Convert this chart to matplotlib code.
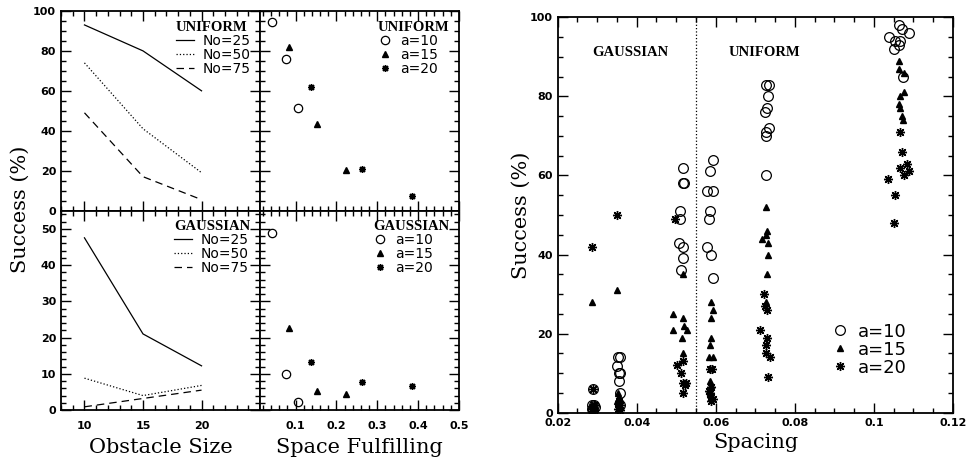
import numpy as np
import matplotlib.pyplot as plt
from matplotlib.ticker import MultipleLocator, FixedLocator

# obstacle size panels
size = [10, 15, 20]
uni_no25 = [93, 80, 60]
uni_no50 = [74, 41, 19]
uni_no75 = [49, 17, 5.5]
gau_no25 = [47.5, 21, 12.2]
gau_no50 = [8.8, 4.0, 6.8]
gau_no75 = [0.9, 3.2, 5.5]

# space fulfilling panels
fill_a10 = [0.043, 0.076, 0.106]
fill_a15 = [0.084, 0.153, 0.223]
fill_a20 = [0.137, 0.262, 0.385]
uni_a10 = [94.7, 75.8, 51.6]
uni_a15 = [82.1, 43.4, 20.4]
uni_a20 = [61.8, 20.9, 7.3]
gau_a10 = [48.8, 10.0, 2.1]
gau_a15 = [22.7, 5.3, 4.5]
gau_a20 = [13.3, 7.8, 6.6]

# spacing panel
sp_a10 = [0.0288, 0.0292, 0.029, 0.0294, 0.029, 0.0286,
          0.035, 0.0353, 0.0357, 0.0358, 0.0355, 0.0356, 0.0358, 0.0357,
          0.0516, 0.0518, 0.0519, 0.051, 0.051, 0.0508, 0.0516, 0.0516, 0.0512,
          0.0592, 0.0586, 0.0579, 0.0594, 0.0586, 0.0582, 0.0577, 0.0589, 0.0592,
          0.0726, 0.0734, 0.0732, 0.073, 0.0724, 0.0734, 0.0727, 0.0727, 0.0728,
          0.1037, 0.1063, 0.107, 0.1088, 0.1054, 0.1065, 0.1063, 0.105, 0.1074]
su_a10 = [1, 2, 0.7, 1.5, 6, 2,
          11.8, 14, 14, 10, 10, 8, 5, 2,
          62, 58, 58, 51, 49, 43, 42, 39, 36,
          64, 61, 56, 56, 51, 49, 42, 40, 34,
          83, 83, 80, 77, 76, 72, 71, 70, 60,
          95, 98, 97, 96, 94, 94, 93, 92, 85]
sp_a15 = [0.0286, 0.029, 0.0292, 0.0288,
          0.035, 0.0352, 0.0354, 0.035, 0.0356, 0.0352, 0.0358,
          0.0518, 0.0492, 0.0492, 0.0518, 0.052, 0.0527, 0.0515, 0.0518,
          0.0588, 0.0593, 0.0588, 0.0589, 0.0585, 0.0583, 0.0593, 0.0585, 0.0583, 0.0587,
          0.0728, 0.073, 0.0727, 0.0716, 0.0732, 0.0731, 0.0729, 0.0727,
          0.1063, 0.1063, 0.1075, 0.1077, 0.1067, 0.1063, 0.1067, 0.1071, 0.1074]
su_a15 = [28, 1, 2, 0.5,
          31, 5, 4, 3, 2, 1, 1.5,
          35, 25, 21, 24, 22, 21, 19, 15,
          28, 26, 24, 19, 17, 14, 14, 8, 5.5, 7,
          52, 46, 45, 44, 43, 40, 35, 28,
          89, 87, 86, 81, 80, 78, 77, 75, 74]
sp_a20 = [0.0286, 0.029, 0.0288, 0.0292, 0.029,
          0.035, 0.0355, 0.0358, 0.0353, 0.0357, 0.0355,
          0.0497, 0.0503, 0.0517, 0.0512, 0.0516, 0.0522, 0.0525, 0.0518,
          0.0586, 0.059, 0.0589, 0.0585, 0.0589, 0.0593, 0.0587, 0.0583,
          0.0722, 0.0724, 0.0729, 0.0711, 0.073, 0.0726, 0.0726, 0.0737, 0.0731,
          0.1065, 0.107, 0.1065, 0.1084, 0.1089, 0.1075, 0.1036, 0.1053, 0.1051]
su_a20 = [42, 6, 1, 2, 1.5,
          50, 3, 2, 1, 0.7, 2.5,
          49, 12, 13, 10, 7.5, 7, 7.5, 5,
          11, 11, 6.5, 4.9, 4, 3.5, 3, 5.5,
          30, 27, 26, 21, 19, 17, 15, 14, 9,
          71, 66, 62, 63, 61, 60, 59, 55, 48]

star = (8, 2, 0)
tickfont = dict(family='DejaVu Sans', weight='bold', size=8)
serif = 'DejaVu Serif'

fig = plt.figure(figsize=(9.69, 4.66), dpi=100)

def style(ax, xmaj, xmin, ymaj, ymin):
    ax.xaxis.set_major_locator(xmaj)
    ax.xaxis.set_minor_locator(MultipleLocator(xmin))
    ax.yaxis.set_major_locator(MultipleLocator(ymaj))
    ax.yaxis.set_minor_locator(MultipleLocator(ymin))
    ax.tick_params(which='both', direction='in', top=True, right=True, width=1.0)
    ax.tick_params(which='major', length=7)
    ax.tick_params(which='minor', length=3.5)
    for s in ax.spines.values():
        s.set_linewidth(1.3)

ax1 = fig.add_axes([0.063, 0.548, 0.2054, 0.4285])
ax2 = fig.add_axes([0.2683, 0.548, 0.2054, 0.4285])
ax3 = fig.add_axes([0.063, 0.120, 0.2054, 0.428])
ax4 = fig.add_axes([0.2683, 0.120, 0.2054, 0.428])
ax5 = fig.add_axes([0.5755, 0.1144, 0.408, 0.8485])

lw = 0.9
for ax, ys, title in [(ax1, (uni_no25, uni_no50, uni_no75), 'UNIFORM'),
                      (ax3, (gau_no25, gau_no50, gau_no75), 'GAUSSIAN')]:
    ax.plot(size, ys[0], 'k-', lw=lw, label='No=25')
    ax.plot(size, ys[1], 'k:', lw=lw, label='No=50')
    ax.plot(size, ys[2], color='k', lw=lw, dashes=(6, 4), label='No=75')
    ax.set_xlim(8, 25)
    leg = ax.legend(loc='upper right', frameon=False, title=title, alignment='left',
                    prop={'family': 'DejaVu Sans', 'size': 10}, handlelength=1.3,
                    labelspacing=0.0, borderaxespad=0.3, handletextpad=0.6)
    leg.get_title().set_fontproperties({'family': 'Liberation Serif', 'weight': 'bold', 'size': 10.5})

for ax, ys, title in [(ax2, (uni_a10, uni_a15, uni_a20), 'UNIFORM'),
                      (ax4, (gau_a10, gau_a15, gau_a20), 'GAUSSIAN')]:
    ax.plot(fill_a10, ys[0], 'o', mfc='none', mec='k', ms=6, mew=0.9, label='a=10')
    ax.plot(fill_a15, ys[1], '^', color='k', ms=4.5, label='a=15')
    ax.plot(fill_a20, ys[2], marker=star, ls='none', color='k', ms=5, mew=1.0, label='a=20')
    ax.set_xlim(0.013, 0.5)
    leg = ax.legend(loc='upper right', frameon=False, title=title, alignment='left',
                    prop={'family': 'DejaVu Sans', 'size': 10}, handlelength=1.0,
                    labelspacing=0.0, borderaxespad=0.3, handletextpad=0.6)
    leg.get_title().set_fontproperties({'family': 'Liberation Serif', 'weight': 'bold', 'size': 10.5})

ax1.set_ylim(0, 100)
ax2.set_ylim(0, 100)
ax3.set_ylim(0, 55)
ax4.set_ylim(0, 55)

style(ax1, FixedLocator([10, 15, 20, 25]), 1, 20, 5)
style(ax3, FixedLocator([10, 15, 20, 25]), 1, 10, 2)
style(ax2, MultipleLocator(0.1), 0.02, 20, 5)
style(ax4, MultipleLocator(0.1), 0.02, 10, 2)
ax1.set_yticks([0, 20, 40, 60, 80, 100])
ax1.set_yticklabels(['0', '20', '40', '60', '80', '100'], fontdict=tickfont)
ax3.set_yticks([0, 10, 20, 30, 40, 50])
ax3.set_yticklabels(['0', '10', '20', '30', '40', '50'], fontdict=tickfont)
ax1.tick_params(labelbottom=False)
ax2.tick_params(labelbottom=False, labelleft=False)
ax4.tick_params(labelleft=False)
ax3.set_xticks([10, 15, 20, 25])
ax3.set_xticklabels(['10', '15', '20', ''], fontdict=tickfont)
ax4.set_xticks([0.1, 0.2, 0.3, 0.4, 0.5])
ax4.set_xticklabels(['0.1', '0.2', '0.3', '0.4', '0.5'], fontdict=tickfont)
ax3.tick_params(axis='x', pad=8)
ax4.tick_params(axis='x', pad=8)

fig.text(0.021, 0.55, 'Success (%)', rotation=90, ha='center', va='center', family=serif, size=15)
ax3.set_xlabel('Obstacle Size', family=serif, size=15, labelpad=5)
ax4.set_xlabel('Space Fulfilling', family=serif, size=15, labelpad=5)

# spacing panel
ax5.plot(sp_a10, su_a10, 'o', mfc='none', mec='k', ms=7, mew=0.9, label='a=10')
ax5.plot(sp_a15, su_a15, '^', color='k', ms=5, label='a=15')
ax5.plot(sp_a20, su_a20, marker=star, ls='none', color='k', ms=6.5, mew=1.0, label='a=20')
ax5.axvline(0.055, color='k', ls=':', lw=0.9)
ax5.set_xlim(0.02, 0.12)
ax5.set_ylim(0, 100)
style(ax5, MultipleLocator(0.02), 0.005, 20, 5)
ax5.set_xticks([0.02, 0.04, 0.06, 0.08, 0.1, 0.12])
ax5.set_xticklabels(['0.02', '0.04', '0.06', '0.08', '0.1', '0.12'], fontdict=tickfont)
ax5.set_yticks([0, 20, 40, 60, 80, 100])
ax5.set_yticklabels(['0', '20', '40', '60', '80', '100'], fontdict=tickfont)
ax5.text(0.0383, 91, 'GAUSSIAN', ha='center', va='center', family='Liberation Serif', weight='bold', size=10.5)
ax5.text(0.0724, 91, 'UNIFORM', ha='center', va='center', family='Liberation Serif', weight='bold', size=10.5)
ax5.legend(loc='lower right', bbox_to_anchor=(0.925, 0.05), frameon=False,
           prop={'family': 'DejaVu Sans', 'size': 13}, handlelength=0.8,
           labelspacing=0.0, handletextpad=0.6)
ax5.set_xlabel('Spacing', family=serif, size=15, labelpad=4)
ax5.set_ylabel('Success (%)', family=serif, size=15, labelpad=-1)

fig.savefig('out.png', dpi=100)
